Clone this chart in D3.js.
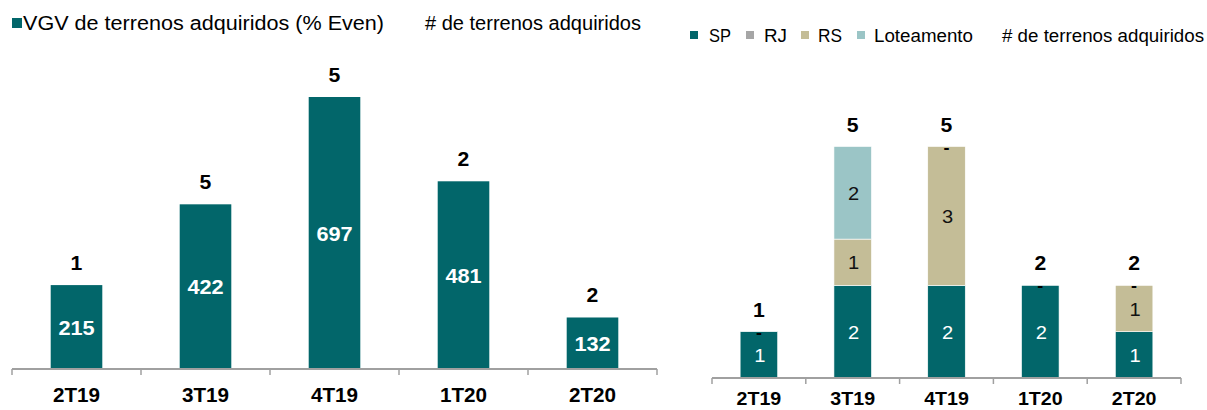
<!DOCTYPE html>
<html>
<head>
<meta charset="utf-8">
<script src="https://cdn.jsdelivr.net/npm/d3@7"></script>
<style>
  html, body { margin: 0; padding: 0; background: #fff; }
  svg { display: block; }
  text { font-family: "Liberation Sans", Arial, sans-serif; }
</style>
</head>
<body>
<svg id="chart" width="1207" height="410"></svg>
<script>
// ---- Data ----
const categories = ["2T19", "3T19", "4T19", "1T20", "2T20"];
// Left chart: VGV de terrenos adquiridos (% Even), R$ milhões
const vgvValues = [215, 422, 697, 481, 132];
const leftCounts = [1, 5, 5, 2, 2];
// Right chart: stacked by region
const seriesNames = ["SP", "RJ", "RS", "Loteamento"];
const spValues = [1, 2, 2, 2, 1];
const rjValues = [0, 0, 0, 0, 0];
const rsValues = [0, 1, 3, 0, 1];
const lotValues = [0, 2, 0, 0, 0];
const rightCounts = [1, 5, 5, 2, 2];
const leftLegendLabels = ["VGV de terrenos adquiridos (% Even)", "# de terrenos adquiridos"];
const rightCountLabel = "# de terrenos adquiridos";

// ---- Styles ----
const colors = { SP: "#02666A", RJ: "#A6A6A6", RS: "#C4BD97", Loteamento: "#9BC5C6" };
const axisColor = "#A0A0A0";
const SX = 1.06; // horizontal stretch of the original picture

const svg = d3.select("#chart");

function stretchedText(g, x, y, str, opts) {
  return g.append("text")
    .attr("transform", `translate(${x},${y}) scale(${opts.sx || SX},1)`)
    .attr("text-anchor", opts.anchor || "middle")
    .attr("font-size", opts.size)
    .attr("font-weight", opts.weight || "normal")
    .attr("fill", opts.fill || "#000")
    .text(str);
}

// ================= LEFT CHART =================
const L = svg.append("g");
const xL = d3.scaleBand().domain(categories).range([12, 657]).paddingInner(0.6).paddingOuter(0.3);
const yL = d3.scaleLinear().domain([0, 697]).range([369, 97]);
const stepL = xL.step();

L.selectAll("rect.bar").data(categories).join("rect")
  .attr("class", "bar")
  .attr("x", d => xL(d))
  .attr("width", xL.bandwidth())
  .attr("y", (d, i) => yL(vgvValues[i]))
  .attr("height", (d, i) => yL(0) - yL(vgvValues[i]))
  .attr("fill", colors.SP);

// axis line + boundary ticks
const axL = L.append("g").attr("transform", `translate(0,${yL(0)})`)
  .call(d3.axisBottom(xL).tickSize(0).tickFormat(""));
axL.select(".domain").attr("stroke", axisColor).attr("stroke-width", 2)
  .attr("d", `M12,0H657`);
d3.range(categories.length + 1).forEach(i => {
  const x = 12 + i * stepL;
  axL.append("line").attr("x1", x).attr("x2", x).attr("y1", 0).attr("y2", 6)
    .attr("stroke", axisColor).attr("stroke-width", 1.5);
});

categories.forEach((c, i) => {
  const cx = xL(c) + xL.bandwidth() / 2;
  stretchedText(L, cx, 402, c, { size: 19.5, weight: "bold" });
  stretchedText(L, cx, (yL(vgvValues[i]) + yL(0)) / 2 + 7.5, String(vgvValues[i]), { size: 20.5, weight: "bold", fill: "#fff" });
  stretchedText(L, cx, yL(vgvValues[i]) - 15, String(leftCounts[i]), { size: 20, weight: "bold" });
});

// left legend
L.append("rect").attr("x", 12).attr("y", 18).attr("width", 10).attr("height", 10).attr("fill", colors.SP);
L.append("text").attr("x", 23).attr("y", 30).attr("font-size", 19.5)
  .attr("textLength", 361).attr("lengthAdjust", "spacingAndGlyphs").text(leftLegendLabels[0]);
L.append("text").attr("x", 425).attr("y", 30).attr("font-size", 19.5)
  .attr("textLength", 216).attr("lengthAdjust", "spacingAndGlyphs").text(leftLegendLabels[1]);

// ================= RIGHT CHART =================
const R = svg.append("g");
const xR = d3.scaleBand().domain(categories).range([712, 1181]).paddingInner(0.6).paddingOuter(0.3);
const yR = d3.scaleLinear().domain([0, 5]).range([378, 146.5]);
const stepR = xR.step();

const table = categories.map((c, i) => ({ cat: c, SP: spValues[i], RJ: rjValues[i], RS: rsValues[i], Loteamento: lotValues[i] }));
const stack = d3.stack().keys(seriesNames)(table);

const layers = R.selectAll("g.layer").data(stack).join("g").attr("class", "layer")
  .attr("fill", d => colors[d.key]);
layers.selectAll("rect").data(d => d.filter(p => p[1] - p[0] > 0)).join("rect")
  .attr("x", d => xR(d.data.cat))
  .attr("width", xR.bandwidth())
  .attr("y", d => yR(d[1]))
  .attr("height", d => yR(d[0]) - yR(d[1]))
  .attr("stroke", "#fff").attr("stroke-width", 0.6);

// segment labels
stack.forEach(layer => {
  layer.forEach(p => {
    const v = p[1] - p[0];
    const cx = xR(p.data.cat) + xR.bandwidth() / 2;
    if (v > 0) {
      stretchedText(R, cx + 1, (yR(p[0]) + yR(p[1])) / 2 + 7, String(v),
        { size: 19, fill: layer.key === "SP" ? "#fff" : "#111" });
    } else if (layer.key === "Loteamento") {
      stretchedText(R, cx, yR(p[1]) + 6, "-", { size: 17, weight: "bold" });
    }
  });
});

// axis
const axR = R.append("g").attr("transform", `translate(0,${yR(0)})`)
  .call(d3.axisBottom(xR).tickSize(0).tickFormat(""));
axR.select(".domain").attr("stroke", axisColor).attr("stroke-width", 2)
  .attr("d", `M712,0H1181`);
d3.range(categories.length + 1).forEach(i => {
  const x = 712 + i * stepR;
  axR.append("line").attr("x1", x).attr("x2", x).attr("y1", 0).attr("y2", 6)
    .attr("stroke", axisColor).attr("stroke-width", 1.5);
});

categories.forEach((c, i) => {
  const cx = xR(c) + xR.bandwidth() / 2;
  stretchedText(R, cx, 405, c, { size: 18.5, weight: "bold" });
  const total = spValues[i] + rjValues[i] + rsValues[i] + lotValues[i];
  stretchedText(R, cx, yR(total) - 15, String(rightCounts[i]), { size: 20, weight: "bold" });
});

// right legend
const legR = [
  { key: "SP", sx: 690, tx: 709, w: 22 },
  { key: "RJ", sx: 746, tx: 764, w: 23 },
  { key: "RS", sx: 801, tx: 818, w: 24 },
  { key: "Loteamento", sx: 857, tx: 874, w: 99 }
];
legR.forEach(d => {
  R.append("rect").attr("x", d.sx).attr("y", 31).attr("width", 8).attr("height", 8).attr("fill", colors[d.key]);
  R.append("text").attr("x", d.tx).attr("y", 41.5).attr("font-size", 17.5)
    .attr("textLength", d.w).attr("lengthAdjust", "spacingAndGlyphs").text(d.key);
});
R.append("text").attr("x", 1002).attr("y", 41.5).attr("font-size", 17.5)
  .attr("textLength", 202).attr("lengthAdjust", "spacingAndGlyphs").text(rightCountLabel);
</script>
</body>
</html>
